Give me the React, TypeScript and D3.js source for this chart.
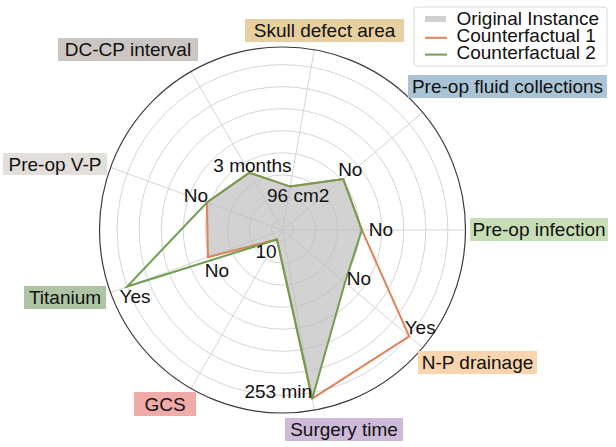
import { useRef, useEffect } from "react";
import * as d3 from "d3";

// Axis order: counter-clockwise from 3 o'clock, 40deg apart
const axes = [
  "Pre-op infection",
  "Pre-op fluid collections",
  "Skull defect area",
  "DC-CP interval",
  "Pre-op V-P",
  "Titanium",
  "GCS",
  "Surgery time",
  "N-P drainage",
];

const original = [3.1, 3.1, 1.5, 2.5, 3.15, 3.1, 0, 7.27, 3.2];
const counterfactual1 = [3.1, 3.1, 1.5, 2.5, 3.15, 3.1, 0, 7.27, 7.0];
const counterfactual2 = [3.1, 3.1, 1.5, 2.5, 3.15, 7.0, 0, 7.27, 3.2];

const originalText = ["No", "No", "96 cm2", "3 months", "No", "No", "10", "253 min", "No"];
// [axis index, series, label]
const changedText: [number, number[], string][] = [
  [5, counterfactual2, "Yes"],
  [8, counterfactual1, "Yes"],
];

const ringTicks = [0, 1, 2, 3, 4, 5, 6, 7];

const legendItems = [
  { label: "Original Instance", kind: "patch", color: "#c4c4c4" },
  { label: "Counterfactual 1", kind: "line", color: "#e0825a" },
  { label: "Counterfactual 2", kind: "line", color: "#6f9e50" },
];

const axisBoxColors = [
  "#c7ddb5",
  "#aac4d6",
  "#e7cfa0",
  "#cbc6c1",
  "#e2deda",
  "#afc3a5",
  "#f0aaa7",
  "#cdbad9",
  "#f8d4af",
];

// label box layout [x0, y0, x1, y1]
const axisBoxes: [number, number, number, number][] = [
  [470, 218, 608, 241],
  [408, 75, 607, 98],
  [245, 19, 404, 42],
  [58, 38, 198, 61],
  [3, 153, 107, 175],
  [24, 286, 106, 309],
  [134, 392, 196, 416],
  [285, 418, 403, 441],
  [418, 351, 537, 374],
];

// value label offsets from their vertex
const originalTextOffset: [number, number][] = [
  [19, -1],
  [7, -10],
  [8, 9],
  [3, -8],
  [-11, -7],
  [9, 13],
  [-11, 12],
  [-34, -8],
  [14, -4],
];
const changedTextOffset: [number, number][] = [
  [8, 10],
  [11, -9],
];

const W = 616;
const H = 447;
const CX = 282.5;
const CY = 230;
const R = 183;
const FONT = "'Liberation Sans', Arial, Helvetica, sans-serif";
const FS = 19;

export default function App() {
  const svgRef = useRef<SVGSVGElement>(null);

  useEffect(() => {
    const svg = d3.select(svgRef.current);
    svg.selectAll("*").remove();

    const n = axes.length;
    const theta = (i: number) => (i * 2 * Math.PI) / n;
    const rScale = d3.scaleLinear().domain([-0.5, 7.8]).range([0, R]);
    const pt = (i: number, v: number): [number, number] => [
      CX + rScale(v) * Math.cos(theta(i)),
      CY - rScale(v) * Math.sin(theta(i)),
    ];

    const g = svg.append("g").attr("transform", `translate(${CX},${CY})`);

    // Grid rings
    g.selectAll(".ring")
      .data(ringTicks)
      .enter()
      .append("circle")
      .attr("r", (d) => rScale(d))
      .attr("fill", "none")
      .attr("stroke", "#d4d4d4")
      .attr("stroke-width", 1);

    // Spokes
    g.selectAll(".spoke")
      .data(axes)
      .enter()
      .append("line")
      .attr("x1", 0)
      .attr("y1", 0)
      .attr("x2", (_, i) => R * Math.cos(theta(i)))
      .attr("y2", (_, i) => -R * Math.sin(theta(i)))
      .attr("stroke", "#d4d4d4")
      .attr("stroke-width", 1);

    // Outer circle
    g.append("circle")
      .attr("r", R)
      .attr("fill", "none")
      .attr("stroke", "#3a3a3a")
      .attr("stroke-width", 1.2);

    const radar = d3
      .lineRadial<number>()
      .angle((_, i) => Math.PI / 2 - theta(i))
      .radius((d) => rScale(d))
      .curve(d3.curveLinearClosed);

    // Original instance fill
    g.append("path")
      .datum(original)
      .attr("d", radar)
      .attr("fill", "#bdbdbd")
      .attr("fill-opacity", 0.68)
      .attr("stroke", "none");

    g.append("path")
      .datum(counterfactual1)
      .attr("d", radar)
      .attr("fill", "none")
      .attr("stroke", legendItems[1].color)
      .attr("stroke-width", 2)
      .attr("stroke-linejoin", "miter");

    g.append("path")
      .datum(counterfactual2)
      .attr("d", radar)
      .attr("fill", "none")
      .attr("stroke", legendItems[2].color)
      .attr("stroke-width", 2)
      .attr("stroke-linejoin", "miter");

    // Value labels
    const txt = (x: number, y: number, s: string, anchor = "middle") =>
      svg
        .append("text")
        .attr("x", x)
        .attr("y", y + 6.8)
        .attr("text-anchor", anchor)
        .attr("font-family", FONT)
        .attr("font-size", FS)
        .attr("fill", "#111")
        .text(s);

    originalText.forEach((s, i) => {
      const [x, y] = pt(i, original[i]);
      txt(x + originalTextOffset[i][0], y + originalTextOffset[i][1], s);
    });
    changedText.forEach(([i, series, s], k) => {
      const [x, y] = pt(i, series[i]);
      txt(x + changedTextOffset[k][0], y + changedTextOffset[k][1], s);
    });

    // Axis labels with coloured boxes
    axes.forEach((name, i) => {
      const [x0, y0, x1, y1] = axisBoxes[i];
      svg
        .append("rect")
        .attr("x", x0)
        .attr("y", y0)
        .attr("width", x1 - x0)
        .attr("height", y1 - y0)
        .attr("fill", axisBoxColors[i]);
      txt((x0 + x1) / 2, (y0 + y1) / 2, name);
    });

    // Legend
    const lg = svg.append("g").attr("transform", "translate(414,7)");
    lg.append("rect")
      .attr("width", 193)
      .attr("height", 59)
      .attr("rx", 3)
      .attr("fill", "#fff")
      .attr("stroke", "#d9d9d9")
      .attr("stroke-width", 1);
    legendItems.forEach((item, i) => {
      const y = 12 + i * 16.8;
      if (item.kind === "patch") {
        lg.append("rect")
          .attr("x", 11)
          .attr("y", y - 3)
          .attr("width", 21)
          .attr("height", 6)
          .attr("fill", item.color)
          .attr("fill-opacity", 0.8);
      } else {
        lg.append("line")
          .attr("x1", 11)
          .attr("x2", 33)
          .attr("y1", y + 2)
          .attr("y2", y + 2)
          .attr("stroke", item.color)
          .attr("stroke-width", 2);
      }
      lg.append("text")
        .attr("x", 42.5)
        .attr("y", y + 6)
        .attr("font-family", FONT)
        .attr("font-size", FS)
        .attr("fill", "#111")
        .text(item.label);
    });
  }, []);

  return (
    <svg
      ref={svgRef}
      width={W}
      height={H}
      style={{ position: "absolute", left: 0, top: 0, display: "block", background: "#fff" }}
    />
  );
}
